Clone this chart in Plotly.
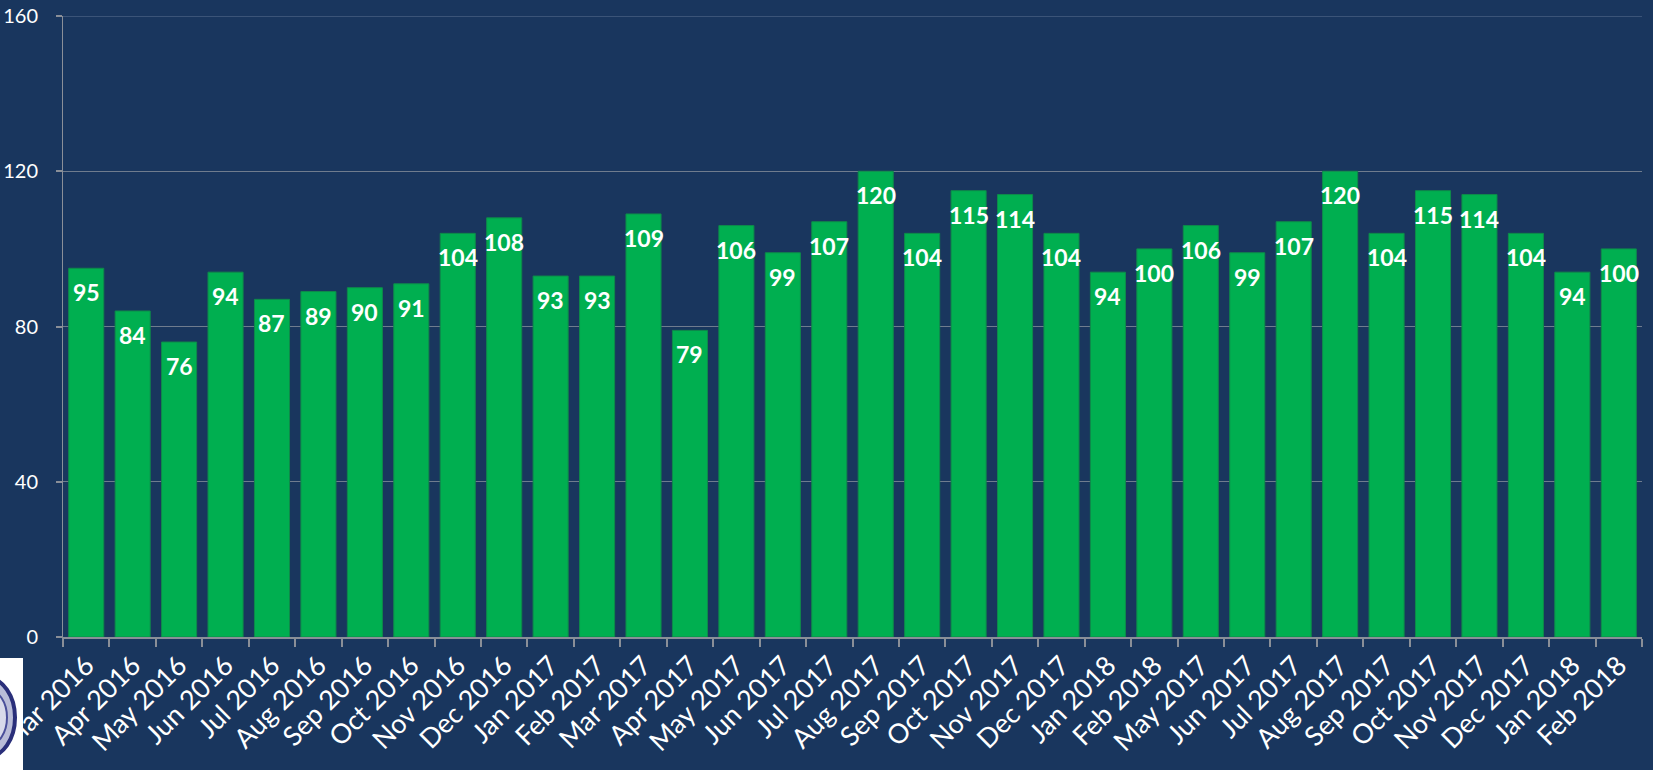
import plotly.graph_objects as go

categories = ["Mar 2016", "Apr 2016", "May 2016", "Jun 2016", "Jul 2016", "Aug 2016",
              "Sep 2016", "Oct 2016", "Nov 2016", "Dec 2016", "Jan 2017", "Feb 2017",
              "Mar 2017", "Apr 2017", "May 2017", "Jun 2017", "Jul 2017", "Aug 2017",
              "Sep 2017", "Oct 2017", "Nov 2017", "Dec 2017", "Jan 2018", "Feb 2018",
              "May 2017", "Jun 2017", "Jul 2017", "Aug 2017", "Sep 2017", "Oct 2017",
              "Nov 2017", "Dec 2017", "Jan 2018", "Feb 2018"]
values = [95, 84, 76, 94, 87, 89, 90, 91, 104, 108, 93, 93, 109, 79, 106, 99, 107, 120,
          104, 115, 114, 104, 94, 100, 106, 99, 107, 120, 104, 115, 114, 104, 94, 100]
y_ticks = [0, 40, 80, 120, 160]

BG = "#19365E"
GREEN = "#00AF50"

positions = list(range(len(categories)))
boundaries = [p - 0.5 for p in positions] + [positions[-1] + 0.5]

fig = go.Figure(go.Bar(
    x=positions, y=values,
    marker=dict(color=GREEN, line=dict(color="#0E8A4A", width=1)),
    hoverinfo="skip",
))

# data labels just inside the top of each bar
for p, v in zip(positions, values):
    fig.add_annotation(
        x=p, y=v, text=str(v), showarrow=False,
        xanchor="center", yanchor="middle", yshift=-24,
        font=dict(family="Lato", size=23, color="white", weight="bold"),
    )

W, H = 1653, 770
L, R, T, B = 63, 11, 16, 133
pw, ph = W - L - R, H - T - B

def px_x(x):
    return (x - L) / pw

def px_y(y):
    return (H - B - y) / ph

fig.update_layout(
    width=W, height=H,
    margin=dict(l=L, r=R, t=T, b=B, pad=0, autoexpand=False),
    paper_bgcolor=BG, plot_bgcolor=BG,
    bargap=0.245,
    showlegend=False,
    font=dict(family="Lato", color="white"),
    xaxis=dict(
        range=[-0.5, len(categories) - 0.5],
        tickmode="array", tickvals=positions, ticktext=categories,
        tickangle=-45, ticks="", ticklen=0,
        tickfont=dict(family="Lato", size=27, color="white"),
        ticklabeloverflow="allow",
        showgrid=False, zeroline=False, automargin=False,
        showline=True, linecolor="#8A8F98", linewidth=2,
        minor=dict(tickmode="array", tickvals=boundaries, ticks="outside",
                   ticklen=8, tickcolor="#8A8F98", tickwidth=2, showgrid=False),
    ),
    yaxis=dict(
        range=[0, 160], tickmode="array", tickvals=y_ticks,
        tickfont=dict(family="Lato", size=20, color="white"),
        ticks="outside", ticklen=6, tickcolor="#8A8F98", tickwidth=2,
        ticklabelstandoff=14,
        showgrid=True, gridcolor="#6F7C8E", gridwidth=1,
        zeroline=False, automargin=False,
        showline=True, linecolor="#8A8F98", linewidth=1,
    ),
    shapes=[
        dict(type="line", xref="paper", yref="y", x0=0, x1=1, y0=160, y1=160,
             line=dict(color="#3B5478", width=2), layer="above"),
        dict(type="rect", xref="paper", yref="paper",
             x0=px_x(-2), x1=px_x(23), y0=px_y(772), y1=px_y(658),
             fillcolor="white", line=dict(width=0), layer="above"),
        dict(type="circle", xref="paper", yref="paper",
             x0=px_x(-40), x1=px_x(15), y0=px_y(757), y1=px_y(678),
             fillcolor="#B9BCD8", line=dict(color="#2A2F7A", width=4), layer="above"),
        dict(type="circle", xref="paper", yref="paper",
             x0=px_x(-30), x1=px_x(7), y0=px_y(745), y1=px_y(690),
             fillcolor="#D8DAEA", line=dict(color="#4A4F9A", width=2), layer="above"),
    ],
)

fig.write_html(
    "out.html",
    config={"displayModeBar": False},
    post_script="document.body.style.margin='0';document.body.style.padding='0';"
                "document.body.style.background='#19365E';"
                "document.body.style.overflow='hidden';",
)
